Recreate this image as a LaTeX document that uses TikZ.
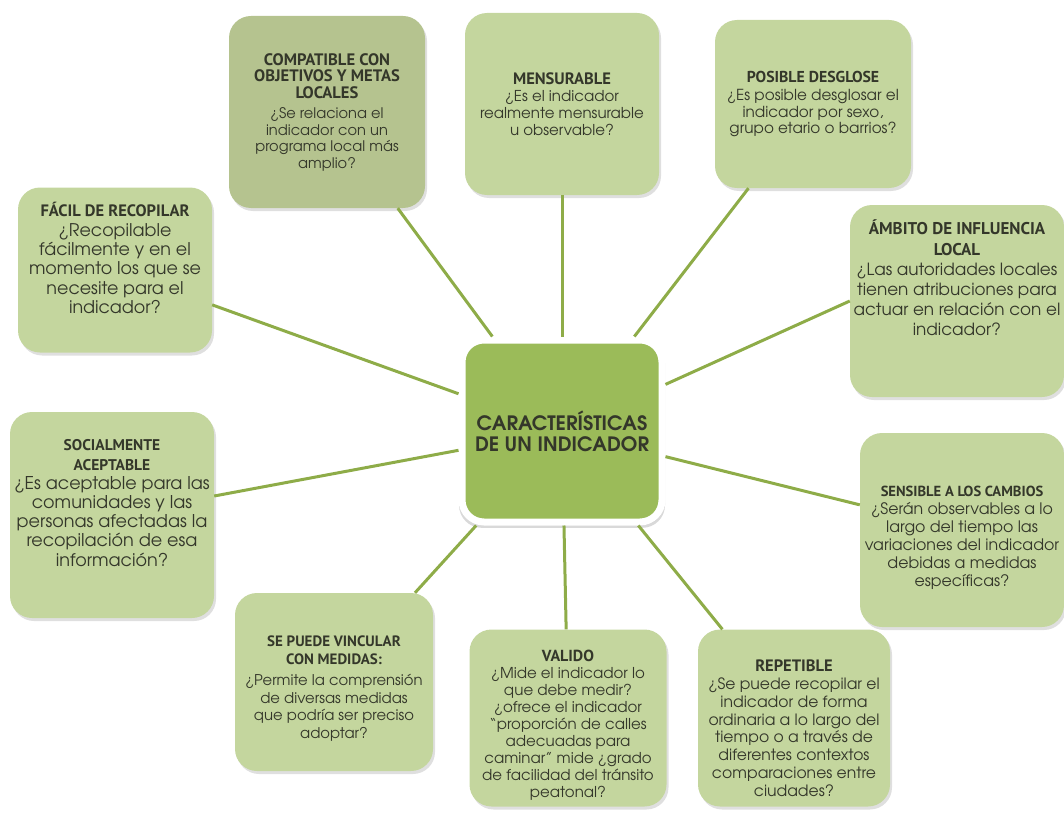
\documentclass[tikz,border=0pt]{standalone}
\usepackage{fontspec}
\setmainfont{TeX Gyre Adventor}
\newfontfamily\headfont{PT Sans}
\usetikzlibrary{shadows,positioning}
\definecolor{boxgreen}{RGB}{196,214,158}
\definecolor{boxolive}{RGB}{181,195,143}
\definecolor{coregreen}{RGB}{155,187,89}
\definecolor{linkgreen}{RGB}{142,172,72}
\definecolor{inktext}{RGB}{52,55,42}
\newcommand{\hd}[2]{{\headfont\bfseries\fontsize{#1}{#1}\selectfont #2}}
\newcommand{\bd}[2]{\fontsize{#1}{#2}\selectfont}
% struts that move a block of text up or down inside its box
\newcommand{\pushup}[1]{\rule[-#1]{0pt}{#1}}
\newcommand{\pushdown}[1]{\rule{0pt}{#1}}

\begin{document}
\begin{tikzpicture}[
  x=1pt, y=1pt,
  box/.style={fill=boxgreen, rounded corners=22pt, align=center, text=inktext,
    inner sep=0pt, drop shadow={opacity=0.25, shadow xshift=2pt, shadow yshift=-3pt}},
  link/.style={draw=linkgreen, line width=3pt}
]
  \useasboundingbox (0,0) rectangle (1064,-813);

  % Centre
  \node (core) [box, fill=coregreen, draw=white, line width=7pt, minimum width=200pt, minimum height=182pt,
    drop shadow={opacity=0.3, shadow xshift=0pt, shadow yshift=-3pt, shadow scale=1.03},
    font=\bfseries\bd{19.8}{21}] at (562,-431) {CARACTERÍSTICAS\\DE UN INDICADOR};

  % Upper row
  \node (compat) [box, fill=boxolive, minimum width=196pt, minimum height=192pt, font=\bd{14.6}{16.5}] at (327,-112)
    {\hd{16.6}{COMPATIBLE CON}\\\hd{16.6}{OBJETIVOS Y METAS}\\\hd{16.6}{LOCALES}\\[4pt]
     ¿Se relaciona el\\indicador con un\\programa local más\\amplio?};
  \node (mensur) [box, minimum width=194pt, minimum height=182pt, font=\bd{15}{17}] at (562,-104)
    {\hd{16.5}{MENSURABLE}\\¿Es el indicador\\realmente mensurable\\u observable?};
  \node (desglose) [box, minimum width=196pt, minimum height=168pt, font=\bd{15.2}{16.5}] at (813,-104)
    {\hd{15.8}{POSIBLE DESGLOSE}\\[2pt]¿Es posible desglosar el\\indicador por sexo,\\grupo etario o barrios?};

  % Right side
  \node (ambito) [box, minimum width=214pt, minimum height=192pt, font=\bd{16.8}{20.2}] at (957,-301)
    {\hd{17}{ÁMBITO DE INFLUENCIA}\\\hd{17}{LOCAL}\\¿Las autoridades locales\\tienen atribuciones para\\actuar en relación con el\\indicador?\pushup{46pt}};
  \node (sensible) [box, minimum width=204pt, minimum height=194pt, font=\bd{15.8}{18}] at (962,-530)
    {\hd{14.6}{\pushdown{26pt}SENSIBLE A LOS CAMBIOS}\\¿Serán observables a lo\\largo del tiempo las\\variaciones del indicador\\debidas a medidas\\específicas?};

  % Left side
  \node (facil) [box, minimum width=194pt, minimum height=165pt, font=\bd{17.5}{19.3}] at (115,-270)
    {\hd{16.5}{FÁCIL DE RECOPILAR}\\¿Recopilable\\fácilmente y en el\\momento los que se\\necesite para el\\indicador?\pushup{24pt}};
  \node (social) [box, minimum width=204pt, minimum height=206pt, font=\bd{17.6}{19.2}] at (112,-515)
    {\hd{15.5}{SOCIALMENTE}\\\hd{15.5}{ACEPTABLE}\\¿Es aceptable para las\\comunidades y las\\personas afectadas la\\recopilación de esa\\información?\pushup{24pt}};

  % Lower row
  \node (vincular) [box, minimum width=198pt, minimum height=178pt, font=\bd{14.8}{17.5}] at (334,-682)
    {\hd{15}{\pushdown{24pt}SE PUEDE VINCULAR}\\\hd{15}{CON MEDIDAS:}\\[4pt]¿Permite la comprensión\\de diversas medidas\\que podría ser preciso\\adoptar?};
  \node (valido) [box, minimum width=197pt, minimum height=177pt, font=\bd{15}{16.9}] at (568,-718)
    {\hd{16}{\pushdown{26pt}VALIDO}\\¿Mide el indicador lo\\que debe medir?\\¿ofrece el indicador\\“proporción de calles\\adecuadas para\\caminar” mide ¿grado\\de facilidad del tránsito\\peatonal?};
  \node (repetible) [box, minimum width=192pt, minimum height=177pt, font=\bd{15.6}{17.8}] at (794,-718)
    {\hd{16.5}{\pushdown{32pt}REPETIBLE}\\¿Se puede recopilar el\\indicador de forma\\ordinaria a lo largo del\\tiempo o a través de\\diferentes contextos\\comparaciones entre\\ciudades?};

  % Spokes
  \foreach \leaf in {compat,mensur,desglose,sensible,repetible,valido,vincular,social,facil}
    \draw[link] (core) -- (\leaf);
  \draw[link] (ambito.west) -- (core);
\end{tikzpicture}
\end{document}
